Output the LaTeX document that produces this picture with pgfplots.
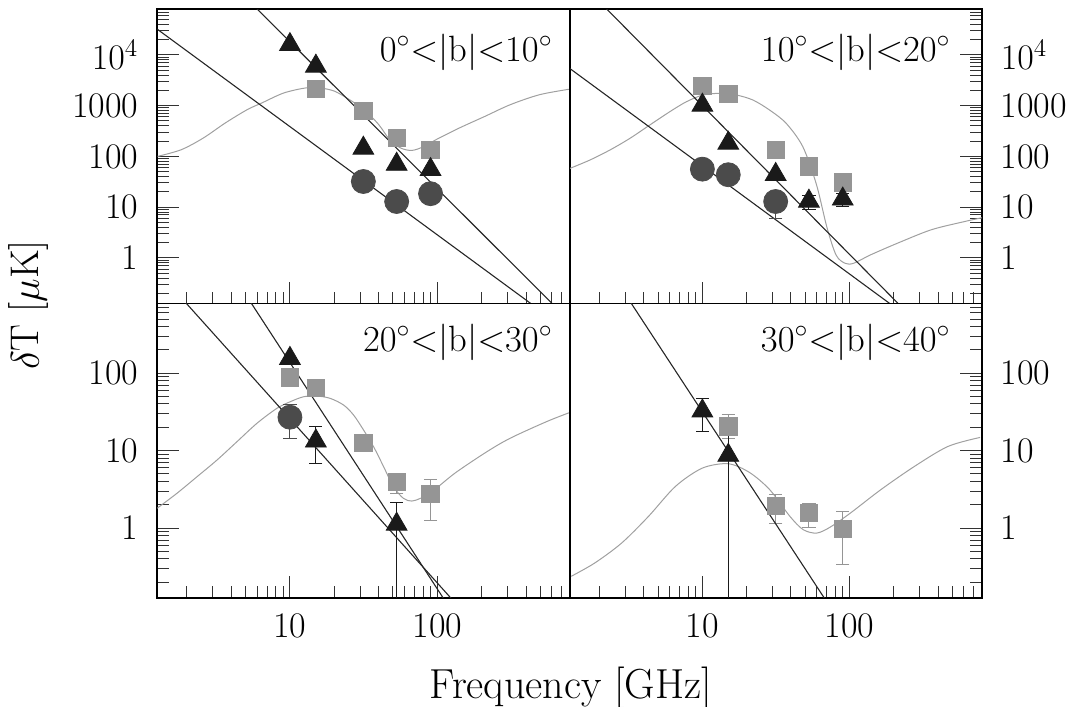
\documentclass[border=0pt]{standalone}
\usepackage{fix-cm}
\usepackage{fontspec}
\usepackage{pgfplots}
\pgfplotsset{compat=1.18}

\definecolor{cTri}{HTML}{1A1A1A}
\definecolor{cCirc}{HTML}{4B4B4B}
\definecolor{cSq}{HTML}{959595}
\definecolor{cCurve}{HTML}{A0A0A0}
\definecolor{cLine}{HTML}{262626}

\newcommand{\blab}[2]{$#1^\circ{<}|\mathrm{b}|{<}#2^\circ$}

\pgfplotsset{
  every axis/.append style={
    scale only axis,
    height=147.1pt,
    xmode=log, ymode=log,
    xmin=1.2589, xmax=794.33,
    ymin=0.12589,
    axis line style={line width=0.9pt, black},
    tick align=inside,
    major tick length=11pt,
    minor tick length=5.8pt,
    tick style={line width=0.5pt, black!80},
    xtick={10,100},
    minor xtick={2,3,4,5,6,7,8,9,20,30,40,50,60,70,80,90,200,300,400,500,600,700},
    xtick pos=left,
    tick label style={font=\fontsize{18}{20}\selectfont},
    xticklabel shift=4.5pt,
    yticklabel shift=6pt,
  },
  dTopRow/.style={
    ymax=79433,
    ytick={1,10,100,1000,10000},
    yticklabels={1,10,100,1000,$10^4$},
    minor ytick={0.2,0.3,0.4,0.5,0.6,0.7,0.8,0.9,2,3,4,5,6,7,8,9,20,30,40,50,60,70,80,90,
      200,300,400,500,600,700,800,900,2000,3000,4000,5000,6000,7000,8000,9000,
      20000,30000,40000,50000,60000,70000},
    xticklabels={,},
  },
  dBotRow/.style={
    ymax=794.33,
    ytick={1,10,100},
    yticklabels={1,10,100},
    minor ytick={0.2,0.3,0.4,0.5,0.6,0.7,0.8,0.9,2,3,4,5,6,7,8,9,20,30,40,50,60,70,80,90,
      200,300,400,500,600,700},
    xticklabels={10,100},
  },
  dLeftCol/.style={width=206.3pt, ytick pos=left},
  dRightCol/.style={width=205.9pt, ytick pos=right, yticklabel pos=right},
  dCurve/.style={cCurve, line width=0.5pt, smooth, no marks},
  dFit/.style={cLine, line width=0.55pt, no marks},
  dSq/.style={only marks, mark=square*, mark size=4.35pt, color=cSq},
  dCirc/.style={only marks, mark=*, mark size=6pt, color=cCirc},
  dTri/.style={only marks, mark=triangle*, mark size=6pt, color=cTri},
  dErr/.style={
    error bars/y dir=both,
    error bars/y explicit,
    error bars/error bar style={line width=0.5pt},
    error bars/error mark options={line width=0.5pt, mark size=3.3pt, rotate=90}},
}
\tikzset{dLab/.style={anchor=east, font=\fontsize{18.3}{20}\selectfont, inner sep=0pt}}

\begin{document}
\begin{tikzpicture}
\useasboundingbox (0,0) rectangle (545pt,353pt);

% ---------------- top left: 0 < |b| < 10 ----------------
\begin{axis}[dTopRow, dLeftCol, at={(78.65pt,348.35pt)}, anchor=north west]
\addplot[dCurve] coordinates {
  (1.265,100)(1.832,135.5)(2.582,230)(3.639,455)(5.129,834)(6.442,1130)
  (9.078,1778)(12.79,2234)(16.07,2234)(20.18,1919)(25.35,1312)(31.92,834)
  (40.09,422)(47.53,213)(56.49,146)(66.99,131)(79.62,153)(100,220)
  (140.9,362)(210.4,615)(313.3,1047)(495.5,1648)(805,2133)
};
\addplot[dSq] coordinates {(15,2130)(31.5,795)(53,230)(90,135)};
\addplot[dFit] coordinates {(1,1.45e7)(1000,0.0288)};
\addplot[dFit] coordinates {(1,52500)(1000,0.0209)};
\addplot[dCirc] coordinates {(31.5,32)(53,12.9)(90,18.4)};
\addplot[dTri] coordinates {(10,16000)(15,6000)(31.5,145)(53,70)(90,55)};
\node[dLab] at (rel axis cs:0.959,0.855) {\blab{0}{10}};
\end{axis}

% ---------------- top right: 10 < |b| < 20 ----------------
\begin{axis}[dTopRow, dRightCol, at={(285pt,348.35pt)}, anchor=north west]
\addplot[dCurve] coordinates {
  (1.259,58.1)(1.718,84.7)(2.35,133.4)(3.214,226.5)(4.385,415)(5.998,758.6)
  (7.78,1194)(10.09,1622)(13.09,1750)(17.02,1622)(22.08,1291)(28.64,820)
  (37.15,448)(48.19,155)(59.57,28.2)(70.31,3.98)(81.28,1.122)(93.97,0.776)
  (107.2,0.785)(139.3,1.146)(212.3,1.945)(359.7,3.573)(609.5,5.212)(794.3,6.166)
};
\addplot[dSq] coordinates {(10,2470)(15,1725)(31.5,136)(53,63)(90,30.7)};
\addplot[dFit] coordinates {(1,8.5e5)(1000,0.00138)};
\addplot[dFit] coordinates {(1,8770)(1000,0.00357)};
\addplot[dCirc] coordinates {(10,56)(15,43.5)};
\addplot[dCirc, dErr] coordinates {(31.5,12.9) += (0,7) -= (0,7)};
\addplot[dTri] coordinates {(10,1020)(15,182)(31.5,44)};
\addplot[dTri, dErr] coordinates {(53,13.1) += (0,4) -= (0,4) (90,14.4) += (0,4) -= (0,4)};
\node[dLab] at (rel axis cs:0.925,0.855) {\blab{10}{20}};
\end{axis}

% ---------------- bottom left: 20 < |b| < 30 ----------------
\begin{axis}[dBotRow, dLeftCol, at={(78.65pt,201.25pt)}, anchor=north west]
\addplot[dCurve] coordinates {
  (1.253,1.795)(1.71,2.805)(2.339,4.59)(3.199,7.55)(4.365,13.0)(5.97,22.5)
  (8.166,35.2)(10.05,42.8)(12.38,49.6)(15.24,50.7)(18.75,47.3)(23.12,38.8)
  (27.04,28.8)(31.62,18.4)(36.98,11.2)(43.25,6.19)(50.47,3.41)(59.02,2.41)
  (67.3,2.23)(76.56,2.41)(89.54,2.81)(104.7,3.59)(135.8,5.33)(216.8,9.66)
  (313.3,14.49)(554.6,23.77)(805.4,31.41)
};
\addplot[dSq] coordinates {(10,88.7)(15,64)(31.5,12.5)};
\addplot[dSq, dErr] coordinates {(53,3.93) += (0,0.9) -= (0,1.1) (90,2.75) += (0,1.45) -= (0,1.49)};
\addplot[dFit] coordinates {(1,3400)(1000,0.00148)};
\addplot[dFit] coordinates {(1,1.15e5)(1000,0.000195)};
\addplot[dCirc, dErr] coordinates {(10,27) += (0,12) -= (0,12.5)};
\addplot[dTri] coordinates {(10,155)};
\addplot[dTri, dErr] coordinates {(15,13.3) += (0,7.2) -= (0,6.4) (53,1.12) += (0,1.04) -= (0,1.11)};
\node[dLab] at (rel axis cs:0.959,0.869) {\blab{20}{30}};
\end{axis}

% ---------------- bottom right: 30 < |b| < 40 ----------------
\begin{axis}[dBotRow, dRightCol, at={(285pt,201.25pt)}, anchor=north west]
\addplot[dCurve] coordinates {
  (1.282,0.2377)(1.854,0.3532)(2.825,0.6397)(4.305,1.416)(6.561,3.451)(10,5.943)
  (15,6.761)(20.89,5.224)(28.71,3.126)(39.36,1.416)(48.53,0.951)(59.98,0.861)
  (74.13,1.03)(101.6,1.563)(163.3,3.126)(276.7,6.252)(467.7,11.32)(772.7,14.79)
};
\addplot[dSq, dErr] coordinates {
  (15,20.5) += (0,9.1) -= (0,6.0)
  (31.5,1.94) += (0,0.81) -= (0,0.81)
  (53,1.56) += (0,0.54) -= (0,0.54)
  (90,0.97) += (0,0.67) -= (0,0.627)
};
\addplot[dFit] coordinates {(1,25100)(1000,5.0e-5)};
\addplot[dTri, dErr] coordinates {(10,32.5) += (0,15.1) -= (0,14.8) (15,8.7) += (0,9.0) -= (0,8.69)};
\node[dLab] at (rel axis cs:0.925,0.869) {\blab{30}{40}};
\end{axis}

\node[rotate=90, font=\fontsize{20}{22}\selectfont] at (14.5pt,200.5pt) {$\delta$T [$\mu$K]};
\node[font=\fontsize{21}{23}\selectfont] at (285.5pt,9pt) {Frequency [GHz]};
\end{tikzpicture}
\end{document}
